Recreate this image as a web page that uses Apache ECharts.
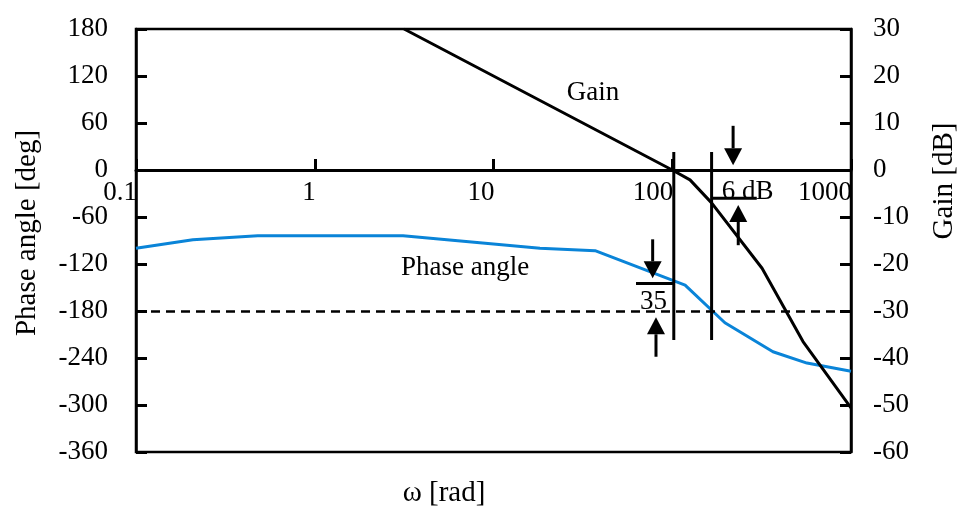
<!DOCTYPE html>
<html>
<head>
<meta charset="utf-8">
<script src="https://cdn.jsdelivr.net/npm/echarts@6/dist/echarts.min.js"></script>
<style>html,body{margin:0;padding:0;background:#fff;}#c{width:963px;height:512px;}</style>
</head>
<body>
<div id="c"></div>
<script>
// ---- data ----
const phaseOmega = [0.1, 0.208, 0.48, 3.12, 18.2, 37, 118, 197, 366, 567, 1000];
const phaseDeg   = [-100, -89, -84, -84, -100, -103, -147, -195, -232, -246.5, -257];
const gainOmega  = [3.16, 100, 125.7, 166, 318, 539, 1000];
const gainDb     = [30, 0, -2.1, -7, -20.9, -36.5, -50.6];
const phaseTicks = [-360, -300, -240, -180, -120, -60, 0, 60, 120, 180];
const gainTicks  = [-60, -50, -40, -30, -20, -10, 0, 10, 20, 30];
const freqTicks  = [0.1, 1, 10, 100, 1000];
const freqLabels = ['0.1', '1', '10', '100', '1000'];
const phaseRef   = -180;
// annotations (data units): [x1, y1, x2, y2]
const phaseSegments = [[102, 23, 102, -217], [166, 23, 166, -217], [62.7, -145, 102, -145]];
const gainSegments  = [[166, -6, 297, -6]];
const phaseArrows   = [[77.7, -88.5, 77.7, -138.3], [81.1, -238.4, 81.1, -188]];
const gainArrows    = [[219, 9.4, 219, 1.0], [234, -16, 234, -7.45]];
const phaseLabels   = [[6.93, -125, 'Phase angle'], [78.6, -168.6, '35']];
const gainLabels    = [[36, 16.4, 'Gain'], [189, -4.7, '6 dB']];

const FONT = '"Liberation Serif", "Times New Roman", serif';
const chart = echarts.init(document.getElementById('c'), null, {renderer: 'canvas'});

function segItem(api, arrow) {
  const p1 = api.coord([api.value(0), api.value(1)]);
  const p2 = api.coord([api.value(2), api.value(3)]);
  const children = [];
  if (!arrow) {
    children.push({type: 'line', shape: {x1: p1[0], y1: p1[1], x2: p2[0], y2: p2[1]},
      style: {stroke: '#000', lineWidth: 3}});
  } else {
    const dx = p2[0] - p1[0], dy = p2[1] - p1[1];
    const len = Math.sqrt(dx * dx + dy * dy) || 1;
    const ux = dx / len, uy = dy / len;
    const hl = 17, hw = 9;
    const bx = p2[0] - ux * hl, by = p2[1] - uy * hl;
    children.push({type: 'line', shape: {x1: p1[0], y1: p1[1], x2: bx, y2: by},
      style: {stroke: '#000', lineWidth: 3}});
    children.push({type: 'polygon', shape: {points: [
      [p2[0], p2[1]], [bx - uy * hw, by + ux * hw], [bx + uy * hw, by - ux * hw]]},
      style: {fill: '#000'}});
  }
  return {type: 'group', children: children};
}
function labelSeries(arr, yIdx) {
  return {
    type: 'custom', yAxisIndex: yIdx, clip: false, z: 5,
    data: arr.map((d, i) => [d[0], d[1], i]),
    encode: {x: 0, y: 1},
    renderItem: function (params, api) {
      const p = api.coord([api.value(0), api.value(1)]);
      const t = arr[api.value(2)][2];
      const isLeft = t === '6 dB';
      return {type: 'text', x: p[0], y: p[1], style: {text: t, font: '27px ' + FONT, fill: '#000',
        align: isLeft ? 'left' : 'center', verticalAlign: 'middle'}};
    }
  };
}
function segSeries(arr, yIdx, arrow) {
  return {
    type: 'custom', yAxisIndex: yIdx, clip: false, z: 6,
    data: arr, encode: {x: [0, 2], y: [1, 3]},
    renderItem: function (params, api) { return segItem(api, arrow); }
  };
}
// frequency tick labels, placed just under the 0-degree axis line
const freqLabelSeries = {
  type: 'custom', yAxisIndex: 0, clip: false, z: 7,
  data: freqTicks.map((w, i) => [w, 0, i]),
  encode: {x: 0, y: 1},
  renderItem: function (params, api) {
    const p = api.coord([api.value(0), api.value(1)]);
    return {type: 'text', x: p[0] + 1, y: p[1] + 23, style: {text: freqLabels[api.value(2)],
      font: '27px ' + FONT, fill: '#000', align: 'right', verticalAlign: 'middle'}};
  }
};

const axisFont = {fontFamily: FONT, fontSize: 27, color: '#000'};
const option = {
  animation: false,
  backgroundColor: '#fff',
  grid: {left: 136, right: 112, top: 29, bottom: 60, show: true, borderColor: '#000', borderWidth: 2.5, containLabel: false},
  xAxis: {
    type: 'log', logBase: 10, min: freqTicks[0], max: freqTicks[freqTicks.length - 1],
    axisLine: {show: true, onZero: true, onZeroAxisIndex: 0, lineStyle: {color: '#000', width: 3}},
    axisTick: {show: true, inside: true, length: 11, lineStyle: {color: '#000', width: 3}},
    axisLabel: {show: false},
    splitLine: {show: false}, minorTick: {show: false}
  },
  yAxis: [{
    type: 'value', position: 'left', min: phaseTicks[0], max: phaseTicks[phaseTicks.length - 1], interval: 60,
    axisLine: {show: true, lineStyle: {color: '#000', width: 2.5}},
    axisTick: {show: true, inside: true, length: 11, lineStyle: {color: '#000', width: 3}},
    axisLabel: Object.assign({margin: 28}, axisFont),
    splitLine: {show: false}
  }, {
    type: 'value', position: 'right', min: gainTicks[0], max: gainTicks[gainTicks.length - 1], interval: 10,
    axisLine: {show: true, lineStyle: {color: '#000', width: 2.5}},
    axisTick: {show: true, inside: true, length: 11, lineStyle: {color: '#000', width: 3}},
    axisLabel: Object.assign({margin: 22}, axisFont),
    splitLine: {show: false}
  }],
  graphic: [
    {type: 'text', x: 27, y: 233, rotation: Math.PI / 2,
      style: {text: 'Phase angle [deg]', font: '29px ' + FONT, fill: '#000', align: 'center', verticalAlign: 'middle'}},
    {type: 'text', x: 944, y: 181, rotation: Math.PI / 2,
      style: {text: 'Gain [dB]', font: '29px ' + FONT, fill: '#000', align: 'center', verticalAlign: 'middle'}},
    {type: 'text', x: 444, y: 493,
      style: {text: 'ω [rad]', font: '29px ' + FONT, fill: '#000', align: 'center', verticalAlign: 'middle'}}
  ],
  series: [
    {
      name: 'Phase angle', type: 'line', yAxisIndex: 0, symbol: 'none', smooth: false, z: 3,
      data: phaseOmega.map((w, i) => [w, phaseDeg[i]]),
      lineStyle: {color: '#0a84d8', width: 3},
      markLine: {silent: true, symbol: ['none', 'none'], label: {show: false},
        lineStyle: {color: '#000', width: 2.5, type: [9, 6]},
        data: [{yAxis: phaseRef}]}
    },
    {
      name: 'Gain', type: 'line', yAxisIndex: 1, symbol: 'none', smooth: false, z: 4,
      data: gainOmega.map((w, i) => [w, gainDb[i]]),
      lineStyle: {color: '#000', width: 3}
    },
    segSeries(phaseSegments, 0, false),
    segSeries(gainSegments, 1, false),
    segSeries(phaseArrows, 0, true),
    segSeries(gainArrows, 1, true),
    labelSeries(phaseLabels, 0),
    labelSeries(gainLabels, 1),
    freqLabelSeries
  ]
};
chart.setOption(option);
</script>
</body>
</html>
